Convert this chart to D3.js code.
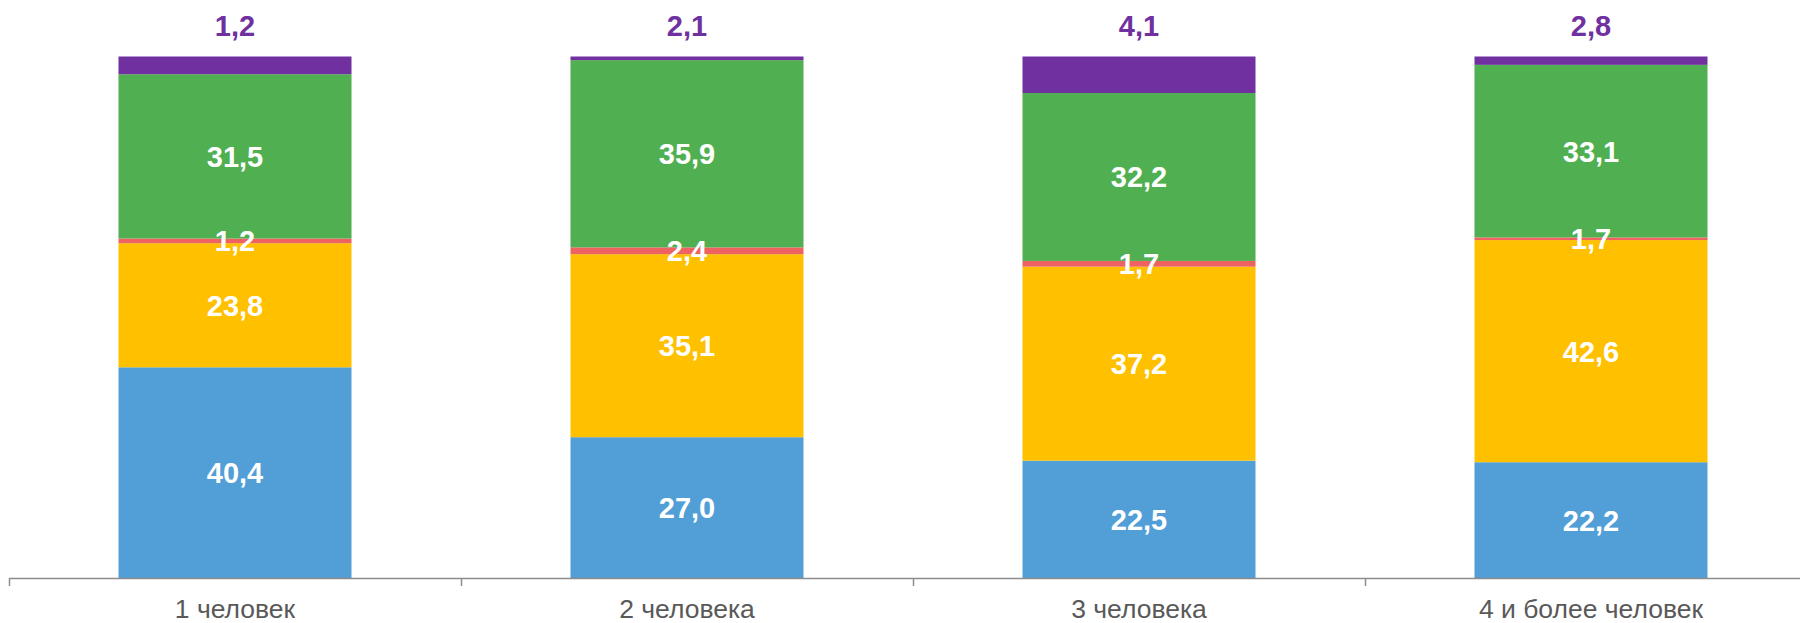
<!DOCTYPE html>
<html>
<head>
<meta charset="utf-8">
<script src="https://cdn.jsdelivr.net/npm/d3@7"></script>
<style>
    body { margin: 0; background: #fff; }
    svg { display: block; font-family: Arial, "Liberation Sans", sans-serif; }
</style>
</head>
<body>
<svg></svg>
<script>
//Width and height
var w = 1800;
var h = 623;

// categories (x axis)
var categories = ["1 человек", "2 человека", "3 человека", "4 и более человек"];

// segment sizes, bottom to top (share of the bar, %)
var blueValues = [40.4, 27.0, 22.5, 22.2];
var yellowValues = [23.8, 35.1, 37.2, 42.6];
var redValues = [0.9, 1.3, 1.1, 0.5];
var greenValues = [31.5, 35.9, 32.2, 33.1];
var purpleValues = [3.4, 0.7, 7.0, 1.6];

// labels written on the chart
var blueLabels = ["40,4", "27,0", "22,5", "22,2"];
var yellowLabels = ["23,8", "35,1", "37,2", "42,6"];
var redLabels = ["1,2", "2,4", "1,7", "1,7"];
var greenLabels = ["31,5", "35,9", "32,2", "33,1"];
var purpleLabels = ["1,2", "2,1", "4,1", "2,8"];

var seriesNames = ["blue", "yellow", "red", "green", "purple"];
var seriesColors = ["#529ED6", "#FFC000", "#EE6262", "#50AF51", "#7030A0"];

// build rows for d3.stack
var rows = categories.map(function (c, i) {
    return {
        cat: c,
        blue: blueValues[i],
        yellow: yellowValues[i],
        red: redValues[i],
        green: greenValues[i],
        purple: purpleValues[i]
    };
});
var labelLists = {
    blue: blueLabels,
    yellow: yellowLabels,
    red: redLabels,
    green: greenLabels,
    purple: purpleLabels
};

var stack = d3.stack().keys(seriesNames);
var layers = stack(rows);

var axisY = 578;
var left = 9;
var step = 452;

var x = d3.scaleBand()
    .domain(categories)
    .range([left, left + step * categories.length])
    .paddingInner(0.4845)
    .paddingOuter(0.4845 / 2);

// same bands with no padding, for the tick marks between categories
var xTicks = d3.scaleBand()
    .domain(categories)
    .range([left, left + step * categories.length]);

var y = d3.scaleLinear()
    .domain([0, 100])
    .range([axisY, 56.5]);

var color = d3.scaleOrdinal()
    .domain(seriesNames)
    .range(seriesColors);

//Create SVG element
var svg = d3.select("svg")
    .attr("width", w)
    .attr("height", h);

var layer = svg.append("g")
    .selectAll("g")
    .data(layers)
    .enter()
    .append("g")
    .attr("fill", d => color(d.key));

layer.selectAll("rect")
    .data(d => d)
    .enter()
    .append("rect")
    .attr("x", d => x(d.data.cat))
    .attr("y", d => y(d[1]))
    .attr("width", x.bandwidth())
    .attr("height", d => y(d[0]) - y(d[1]));

// white labels inside the segments (everything except purple)
var inner = layers.filter(l => l.key != "purple");
inner.forEach(function (l) {
    svg.append("g")
        .selectAll("text")
        .data(l)
        .enter()
        .append("text")
        .attr("x", d => x(d.data.cat) + x.bandwidth() / 2)
        .attr("y", d => (y(d[0]) + y(d[1])) / 2)
        .attr("dy", "0.36em")
        .attr("text-anchor", "middle")
        .attr("fill", "#fff")
        .attr("font-weight", "bold")
        .attr("font-size", 29)
        .text((d, i) => labelLists[l.key][i]);
});

// purple labels sit above the bars
var topLayer = layers[layers.length - 1];
svg.append("g")
    .selectAll("text")
    .data(topLayer)
    .enter()
    .append("text")
    .attr("x", d => x(d.data.cat) + x.bandwidth() / 2)
    .attr("y", 36)
    .attr("text-anchor", "middle")
    .attr("fill", "#7030A0")
    .attr("font-weight", "bold")
    .attr("font-size", 29)
    .text((d, i) => purpleLabels[i]);

// x axis: line, ticks between categories, labels
var axis = svg.append("g");
axis.append("line")
    .attr("x1", left)
    .attr("x2", w)
    .attr("y1", axisY + 0.5)
    .attr("y2", axisY + 0.5)
    .attr("stroke", "#8C8C8C")
    .attr("stroke-width", 1.5);

axis.selectAll(".tick")
    .data(categories)
    .enter()
    .append("line")
    .attr("class", "tick")
    .attr("x1", d => xTicks(d) + 0.5)
    .attr("x2", d => xTicks(d) + 0.5)
    .attr("y1", axisY)
    .attr("y2", axisY + 8)
    .attr("stroke", "#8C8C8C")
    .attr("stroke-width", 1.5);

axis.selectAll(".lbl")
    .data(categories)
    .enter()
    .append("text")
    .attr("class", "lbl")
    .attr("x", d => xTicks(d) + xTicks.bandwidth() / 2)
    .attr("y", 618)
    .attr("text-anchor", "middle")
    .attr("fill", "#595959")
    .attr("font-size", 26.5)
    .text(d => d);
</script>
</body>
</html>
